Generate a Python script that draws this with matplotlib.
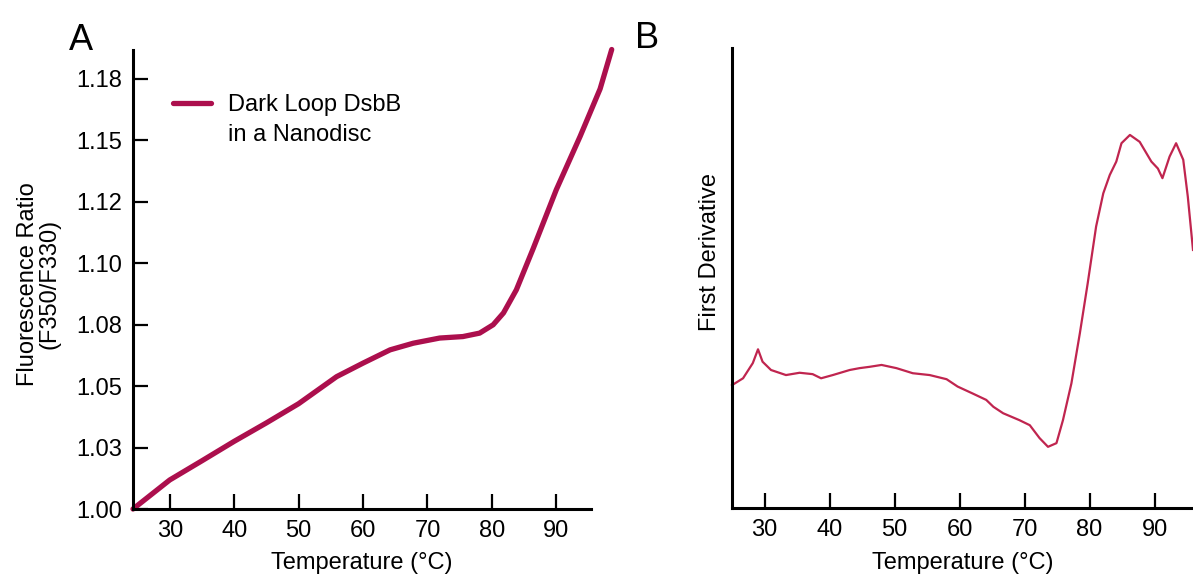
import numpy as np
import matplotlib
matplotlib.use("Agg")
import matplotlib.pyplot as plt
from matplotlib.lines import Line2D

plt.rcParams['font.family'] = ['Liberation Sans', 'DejaVu Sans']

# Panel A - fluorescence ratio vs temperature
tempA = [24.3, 30.0, 35.0, 40.0, 45.0, 50.0, 55.9, 60.0, 64.2, 67.8, 71.9, 75.5,
         78.1, 80.2, 81.8, 83.8, 86.4, 90.0, 93.7, 96.8, 98.6]
ratioA = [1.000, 1.0118, 1.0196, 1.0275, 1.0350, 1.0428, 1.0538, 1.0593, 1.0647,
          1.0674, 1.0695, 1.0701, 1.0715, 1.0749, 1.0797, 1.0891, 1.1058, 1.1298,
          1.1515, 1.1708, 1.1868]
yticksA = [1.000, 1.025, 1.050, 1.075, 1.100, 1.125, 1.150, 1.175]
ytick_labelsA = ['1.00', '1.03', '1.05', '1.08', '1.10', '1.12', '1.15', '1.18']
xticks = [30, 40, 50, 60, 70, 80, 90]

# Panel B - first derivative (arbitrary units)
tempB = [25.0, 26.7, 28.2, 29.0, 29.7, 31.0, 33.3, 35.4, 37.4, 38.7, 40.5, 43.1,
         44.6, 46.2, 48.0, 50.3, 52.8, 55.4, 58.0, 59.7, 62.0, 64.1, 65.2, 66.7,
         69.2, 70.8, 72.3, 73.6, 74.9, 75.9, 77.2, 78.5, 79.7, 81.0, 82.1, 83.1,
         84.1, 84.9, 86.2, 87.7, 89.5, 90.5, 91.2, 92.3, 93.3, 94.4, 95.1, 95.9]
derivB = [0.267, 0.282, 0.315, 0.345, 0.318, 0.300, 0.289, 0.294, 0.291, 0.282,
          0.289, 0.300, 0.304, 0.307, 0.311, 0.304, 0.293, 0.289, 0.280, 0.264,
          0.249, 0.235, 0.220, 0.206, 0.191, 0.180, 0.152, 0.133, 0.141, 0.191,
          0.271, 0.380, 0.488, 0.612, 0.684, 0.724, 0.753, 0.793, 0.811, 0.796,
          0.753, 0.738, 0.717, 0.764, 0.793, 0.757, 0.677, 0.561]

colA = '#ac0f4d'
colB = '#c0254f'
fs = 17

fig = plt.figure(figsize=(11.93, 5.79), dpi=100)
axA = fig.add_axes([133/1193, 70/579, 480/1193, 459/579])
axB = fig.add_axes([732/1193, 71/579, 461/1193, 460/579])

# --- panel A
lineA, = axA.plot(tempA, ratioA, color=colA, lw=3.8, solid_capstyle='round',
                  solid_joinstyle='round', clip_on=False)
axA.set_xlim(24.3, 98.8)
axA.set_ylim(1.0, 1.1866)
axA.spines['bottom'].set_bounds(24.3, 95.4)
axA.set_yticks(yticksA)
axA.set_yticklabels(ytick_labelsA)
axA.set_xticks(xticks)
axA.set_xlabel('Temperature (\u00b0C)', fontsize=fs, va='center')
axA.xaxis.set_label_coords(0.477, -0.118)
axA.set_ylabel('Fluorescence Ratio\n(F350/F330)', fontsize=fs, linespacing=1.0, va='center')
axA.yaxis.set_label_coords(-0.196, 0.49)
fig.text(69/1193, 1 - 50/579, 'A', fontsize=26, va='baseline')
dummy = Line2D([], [], color='none')
axA.legend([lineA, dummy], ['Dark Loop DsbB', 'in a Nanodisc'], loc='upper left',
           bbox_to_anchor=(0.04, 0.95), frameon=False, fontsize=fs,
           handlelength=1.6, handletextpad=0.7, labelspacing=0.35)

# --- panel B
axB.plot(tempB, derivB, color=colB, lw=1.6, solid_joinstyle='round', clip_on=False)
axB.set_xlim(25.0, 95.9)
axB.set_ylim(0, 1)
axB.set_xticks(xticks)
axB.set_yticks([])
axB.set_xlabel('Temperature (\u00b0C)', fontsize=fs, va='center')
axB.xaxis.set_label_coords(0.5, -0.12)
axB.set_ylabel('First Derivative', fontsize=fs, va='center')
axB.yaxis.set_label_coords(-0.047, 0.556)
fig.text(635/1193, 1 - 48/579, 'B', fontsize=26, va='baseline')

for ax in (axA, axB):
    ax.spines['top'].set_visible(False)
    ax.spines['right'].set_visible(False)
    ax.spines['left'].set_linewidth(2.2)
    ax.spines['bottom'].set_linewidth(2.2)
    ax.tick_params(direction='in', length=11, width=1.6, labelsize=fs, pad=8)

fig.savefig('out.png', dpi=100, facecolor='white')
